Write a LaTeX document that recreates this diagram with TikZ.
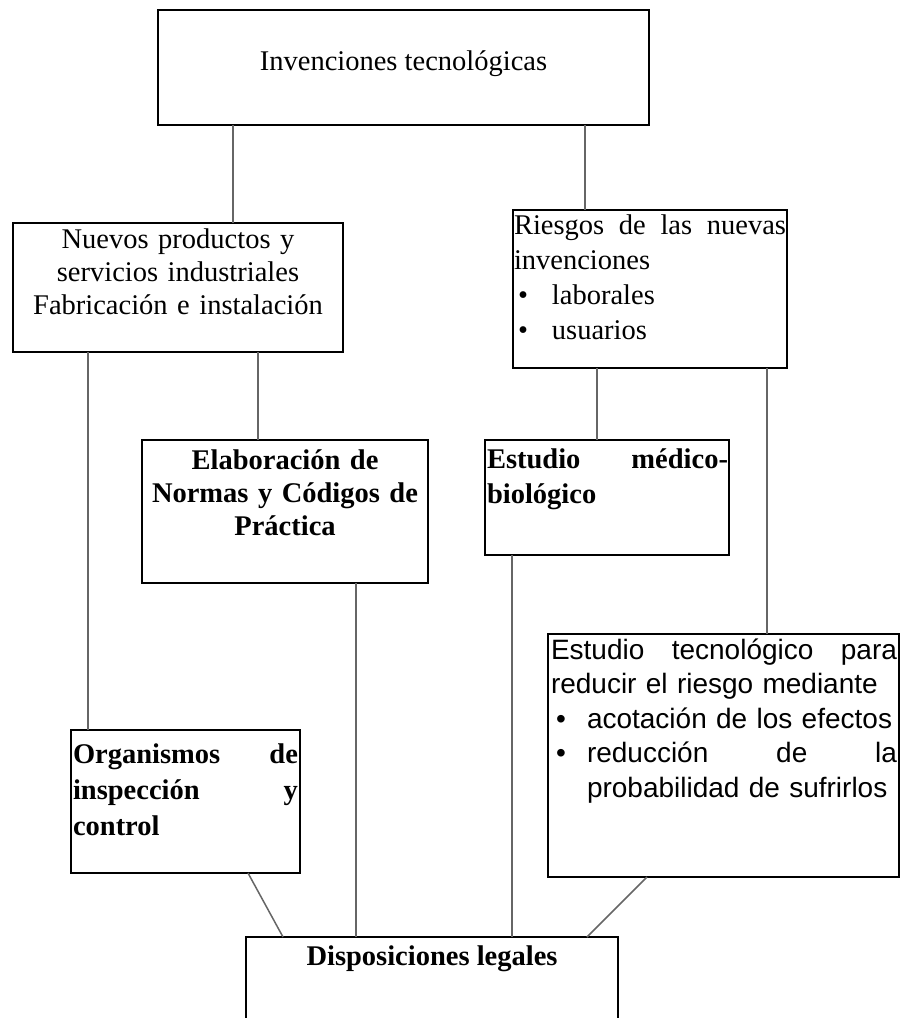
\documentclass[tikz,border=0pt]{standalone}
\usepackage{fontspec}
\setmainfont{Liberation Serif}
\newfontfamily\arialfont{Liberation Sans}

\tikzset{
  box/.style={draw=black, line width=1.4pt, fill=white, anchor=north west,
              inner sep=0pt, outer sep=0pt},
  link/.style={draw=black!60, line width=1.5pt},
  txt/.style={inner sep=0pt, outer sep=0pt, font=\fontsize{28.5}{#1}\selectfont},
  btxt/.style={inner sep=0pt, outer sep=0pt, font=\fontsize{28.5}{#1}\selectfont\bfseries},
  stxt/.style={inner sep=0pt, outer sep=0pt, font=\arialfont\fontsize{28}{#1}\selectfont},
}

\begin{document}
\begin{tikzpicture}[x=1pt, y=-1pt]
  \useasboundingbox (0,0) rectangle (904,1018);
  \fill[white] (0,0) rectangle (904,1018);
  \clip (0,0) rectangle (904,1018);

  % boxes
  \node[box, minimum width=491pt, minimum height=115pt] (inv) at (158,10) {};
  \node[box, minimum width=330pt, minimum height=129pt] (nue) at (13,223) {};
  \node[box, minimum width=274pt, minimum height=158pt] (rie) at (513,210) {};
  \node[box, minimum width=286pt, minimum height=143pt] (nor) at (142,440) {};
  \node[box, minimum width=244pt, minimum height=115pt] (med) at (485,440) {};
  \node[box, minimum width=351pt, minimum height=243pt] (tec) at (548,634) {};
  \node[box, minimum width=229pt, minimum height=143pt] (org) at (71,730) {};
  \node[box, minimum width=372pt, minimum height=130pt] (dis) at (246,937) {};

  % texts (justified lines are spread with \hfill)
  \node[txt=33, anchor=base] (t-inv) at (403.5,70) {Invenciones tecnológicas};
  \node[txt=33, anchor=base, text width=330pt, align=center] (t-nue) at (178,248)
    {Nuevos productos y\\ servicios industriales\\ Fabricación e instalación};
  \node[txt=35, anchor=base west, text width=272pt, align=left] (t-rie) at (514,234)
    {\makebox[272pt][s]{Riesgos\hfill de\hfill las\hfill nuevas}\\ invenciones\\
     \hspace*{4pt}\makebox[34pt][l]{•}laborales\\
     \hspace*{4pt}\makebox[34pt][l]{•}usuarios};
  \node[btxt=33, anchor=base, text width=286pt, align=center] (t-nor) at (285,469)
    {Elaboración de\\ Normas y Códigos de\\ Práctica};
  \node[btxt=35, anchor=base west, text width=241pt, align=left] (t-med) at (487,468)
    {\makebox[241pt][s]{Estudio\hfill médico-}\\ biológico};
  \node[btxt=36, anchor=base west, text width=225pt, align=left] (t-org) at (73,763)
    {\makebox[225pt][s]{Organismos\hfill de}\\ \makebox[225pt][s]{inspección\hfill y}\\ control};
  \node[stxt=34.5, anchor=base west, text width=346pt, align=left] (t-tec) at (551,659)
    {\makebox[346pt][s]{Estudio\hfill tecnológico\hfill para}\\ reducir el riesgo mediante\\
     \hspace*{5pt}\makebox[31pt][l]{•}acotación de los efectos\\
     \hspace*{5pt}\makebox[31pt][l]{•}\makebox[310pt][s]{reducción\hfill de\hfill la}\\
     \hspace*{36pt}probabilidad de sufrirlos};
  \node[btxt=33, anchor=base] (t-dis) at (432,965) {Disposiciones legales};

  % connectors
  \draw[link] ([xshift=75pt]inv.south west) -- ([xshift=220pt]nue.north west);
  \draw[link] ([xshift=427pt]inv.south west) -- ([xshift=72pt]rie.north west);
  \draw[link] ([xshift=75pt]nue.south west) -- ([xshift=17pt]org.north west);
  \draw[link] ([xshift=245pt]nue.south west) -- ([xshift=116pt]nor.north west);
  \draw[link] ([xshift=84pt]rie.south west) -- ([xshift=112pt]med.north west);
  \draw[link] ([xshift=254pt]rie.south west) -- ([xshift=219pt]tec.north west);
  \draw[link] ([xshift=214pt]nor.south west) -- ([xshift=110pt]dis.north west);
  \draw[link] ([xshift=27pt]med.south west) -- ([xshift=266pt]dis.north west);
  \draw[link] ([xshift=177pt]org.south west) -- ([xshift=37pt]dis.north west);
  \draw[link] ([xshift=99pt]tec.south west) -- ([xshift=341pt]dis.north west);
\end{tikzpicture}
\end{document}
